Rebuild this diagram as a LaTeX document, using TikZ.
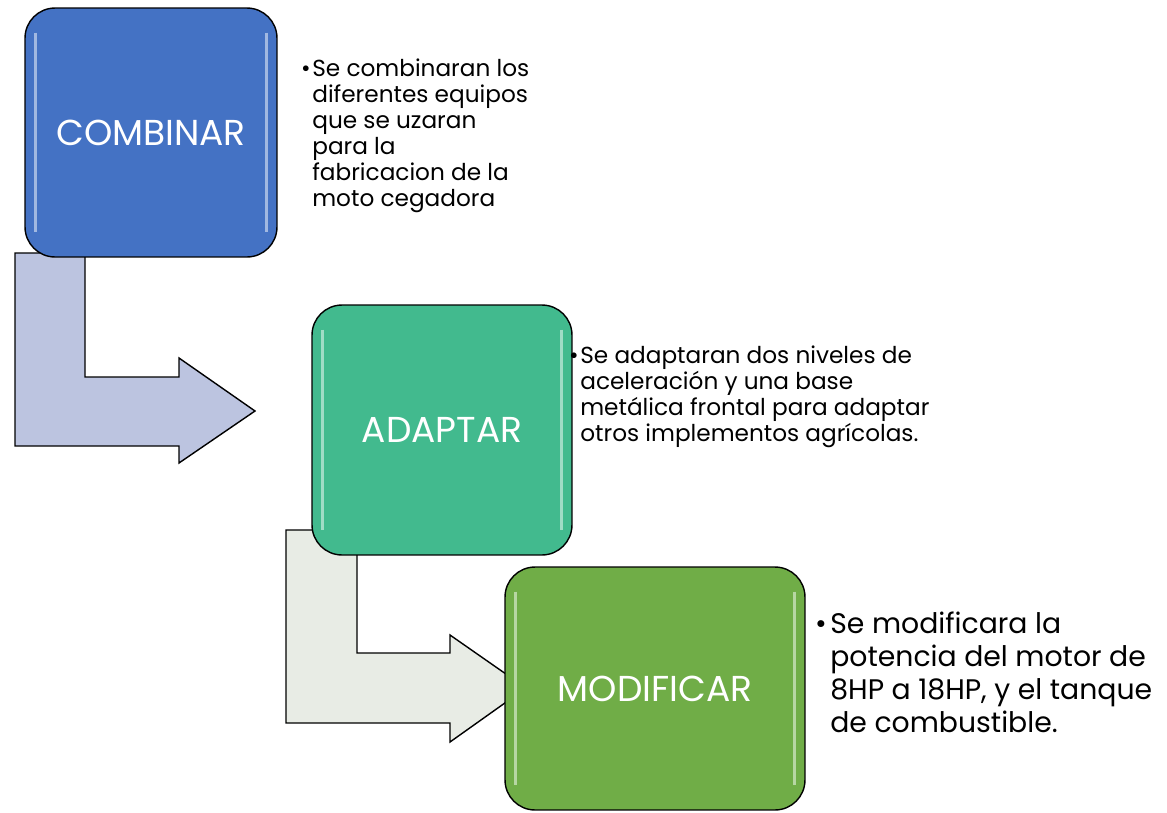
\documentclass[tikz,border=0pt]{standalone}
\usepackage{fontspec}
\setmainfont{Poppins}

\definecolor{azul}{RGB}{68,114,196}
\definecolor{verdeagua}{RGB}{66,186,142}
\definecolor{verde}{RGB}{112,173,71}
\definecolor{flechaazul}{RGB}{188,196,224}
\definecolor{flechagris}{RGB}{232,236,229}

\begin{document}
\begin{tikzpicture}[x=0.02cm,y=-0.02cm]
	\tikzset{stepbox/.style={draw=black, line width=0.8pt, rounded corners=0.6cm, inner sep=0pt,
			text=white, font=\fontsize{20.5}{24}\selectfont,
			path picture={\draw[white,opacity=.5,line width=1.3pt]
					([xshift=6pt,yshift=-14pt]path picture bounding box.north west) --
					([xshift=6pt,yshift=14pt]path picture bounding box.south west);
				\draw[white,opacity=.5,line width=1.3pt]
					([xshift=-6pt,yshift=-14pt]path picture bounding box.north east) --
					([xshift=-6pt,yshift=14pt]path picture bounding box.south east);}},
		bentarrow/.style={draw=black, line width=0.8pt, line join=miter},
		bullettext/.style={anchor=north west, inner sep=0pt, align=left,
			font=\fontsize{13.2}{14.8}\selectfont}}
	\useasboundingbox (0,0) rectangle (1167,812);

	% flechas (detras de las cajas)
	\draw[bentarrow, fill=flechaazul] (15,253) -- (85,253) -- (85,377) -- (179,377) -- (179,358)
		-- (255,411) -- (179,463) -- (179,446) -- (15,446) -- cycle;
	\draw[bentarrow, fill=flechagris] (286,530) -- (357,530) -- (357,653) -- (450,653) -- (450,635)
		-- (526,688) -- (450,742) -- (450,723) -- (286,723) -- cycle;

	% cajas
	\node[stepbox, fill=azul, minimum width=5.04cm, minimum height=4.98cm] (combinar) at (151,132.5) {COMBINAR};
	\node[stepbox, fill=verdeagua, minimum width=5.2cm, minimum height=5cm] (adaptar) at (442,430) {ADAPTAR};
	\node[stepbox, fill=verde, minimum width=6cm, minimum height=4.86cm] (modificar) at (655,688.5) {MODIFICAR};

	% textos
	\node[bullettext] (tcombinar) at (312,58) {\llap{•\hspace{1pt}}Se combinaran los\\diferentes equipos\\que se uzaran\\para la\\fabricacion de la\\moto cegadora};
	\node[bullettext] (tadaptar) at (580,345) {\llap{•\hspace{1pt}}Se adaptaran dos niveles de\\aceleración y una base\\metálica frontal para adaptar\\otros implementos agrícolas.};
	\node[bullettext, font=\fontsize{16.1}{18.7}\selectfont] (tmodificar) at (830,612) {\llap{•\hspace{2pt}}Se modificara la\\potencia del motor de\\8HP a 18HP, y el tanque\\de combustible.};
\end{tikzpicture}
\end{document}
